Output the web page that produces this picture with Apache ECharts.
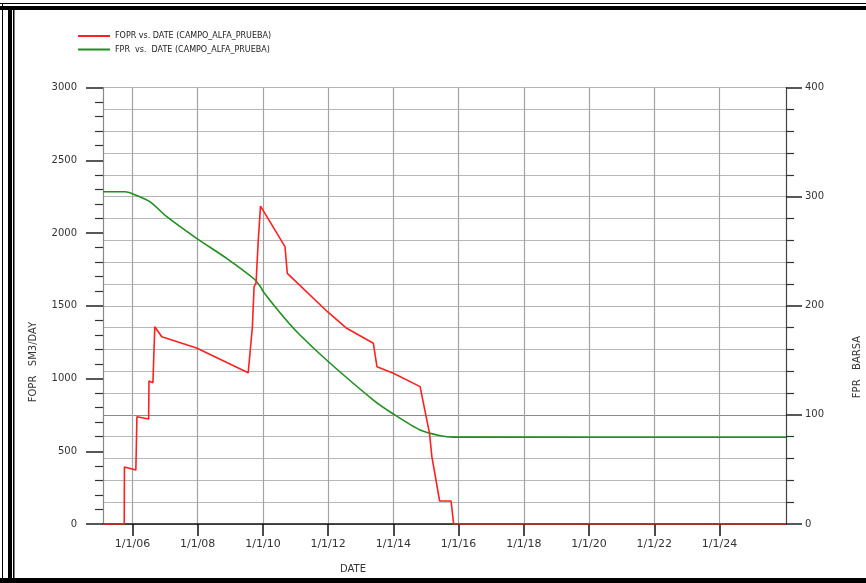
<!DOCTYPE html>
<html>
<head>
<meta charset="utf-8">
<script src="https://cdn.jsdelivr.net/npm/echarts@6/dist/echarts.min.js"></script>
<style>
  html, body { margin: 0; padding: 0; background: #fff; }
  #main { width: 866px; height: 583px; }
</style>
</head>
<body>
<div id="main"></div>
<script>
// FOPR (SM3/DAY), left axis
var foprDates = ['2005-02-05','2005-10-01','2005-10-03','2006-02-08','2006-02-20','2006-07-01','2006-07-05',
  '2006-08-18','2006-09-08','2006-11-25','2007-12-20','2009-07-20','2009-09-05','2009-09-24','2009-10-16',
  '2009-11-10','2009-12-05','2010-09-05','2010-10-01','2011-12-25','2012-07-27','2013-05-22','2013-07-01',
  '2014-01-01','2014-10-27','2015-02-10','2015-03-08','2015-03-26','2015-06-03','2015-10-09','2015-11-07','2026-01-15'];
var foprValues = [0, 0, 392, 371, 737, 722, 983,
  971, 1356, 1287, 1210, 1039, 1354, 1631, 1656,
  1952, 2185, 1906, 1723, 1459, 1345, 1242, 1081,
  1036, 944, 623, 463, 463, 158, 158, 0, 0];

// FPR (BARSA), right axis
var fprDates = ['2005-02-05','2005-10-10','2006-01-08','2006-07-15','2007-01-20','2007-12-20','2008-11-20',
  '2009-09-15','2009-12-05','2010-01-05','2010-08-18','2011-02-20','2012-01-05','2013-05-22','2014-01-01',
  '2014-10-27','2015-06-10','2015-11-07','2026-01-15'];
var fprValues = [304.5, 304.5, 302.4, 295.4, 281.6, 261.8, 243.5,
  225.2, 217.5, 212.9, 190, 173.2, 148.7, 113.6, 100.8,
  86.1, 80.9, 79.6, 79.5];

var tickYears = [2006, 2008, 2010, 2012, 2014, 2016, 2018, 2020, 2022, 2024];
var seriesNames = ['FOPR vs. DATE (CAMPO_ALFA_PRUEBA)', 'FPR  vs.  DATE (CAMPO_ALFA_PRUEBA)'];

var font = 'DejaVu Sans';

function ts(s) {
  var p = s.split('-');
  return Date.UTC(+p[0], +p[1] - 1, +p[2]);
}
var tickValues = tickYears.map(function (y) { return Date.UTC(y, 0, 1); });

function pairs(dates, vals) {
  return dates.map(function (d, i) { return [ts(d), vals[i]]; });
}

var myChart = echarts.init(document.getElementById('main'));
var option = {
  animation: false,
  backgroundColor: '#fff',
  legend: {
    left: 78,
    top: 31,
    orient: 'vertical',
    icon: 'rect',
    itemWidth: 32,
    itemHeight: 2,
    itemGap: 3.5,
    padding: 0,
    data: seriesNames,
    textStyle: { fontFamily: font, fontSize: 8, lineHeight: 10, color: '#222' }
  },
  grid: { left: 103, right: 80, top: 87.5, bottom: 59 },
  xAxis: {
    type: 'value',
    min: ts('2005-02-05'),
    max: ts('2026-01-15'),
    axisLine: { lineStyle: { color: '#111', width: 1.5 } },
    axisTick: { show: true, length: 12, customValues: tickValues, lineStyle: { color: '#111', width: 1.5 } },
    axisLabel: {
      customValues: tickValues,
      margin: 15,
      fontFamily: font,
      fontSize: 11,
      color: '#333',
      formatter: function (v) {
        var d = new Date(v);
        return (d.getUTCMonth() + 1) + '/' + d.getUTCDate() + '/' + String(d.getUTCFullYear()).slice(2);
      }
    },
    splitLine: { show: true, lineStyle: { color: '#a3a3a3', width: 1.2 } }
  },
  yAxis: [
    {
      type: 'value',
      min: 0,
      max: 3000,
      interval: 500,
      position: 'left',
      axisLine: { show: true, lineStyle: { color: '#888', width: 1.2 } },
      axisTick: { show: true, length: 17, lineStyle: { color: '#222', width: 1.5 } },
      minorTick: { show: true, splitNumber: 5, length: 8, lineStyle: { color: '#333', width: 1.2 } },
      axisLabel: {
        margin: 26, fontFamily: font, fontSize: 10, color: '#333',
        formatter: function (v) { return String(v); }
      },
      splitLine: { show: false }
    },
    {
      type: 'value',
      min: 0,
      max: 400,
      interval: 100,
      position: 'right',
      axisLine: { show: true, lineStyle: { color: '#444', width: 1.2 } },
      axisTick: { show: true, length: 16, lineStyle: { color: '#222', width: 1.5 } },
      minorTick: { show: true, splitNumber: 5, length: 8, lineStyle: { color: '#333', width: 1.2 } },
      axisLabel: {
        margin: 19, fontFamily: font, fontSize: 10, color: '#333',
        formatter: function (v) { return String(v); }
      },
      splitLine: { show: true, lineStyle: { color: ['#b4b4b4', '#8a8a8a', '#b4b4b4', '#b4b4b4', '#b4b4b4'], width: 1.2 } },
      minorSplitLine: { show: true, lineStyle: { color: '#b8b8b8', width: 1.2 } }
    }
  ],
  graphic: [
    { type: 'rect', shape: { x: 0, y: 3, width: 866, height: 1 }, style: { fill: '#000' } },
    { type: 'rect', shape: { x: 0, y: 6, width: 866, height: 4 }, style: { fill: '#000' } },
    { type: 'rect', shape: { x: 2, y: 3, width: 1, height: 580 }, style: { fill: '#000' } },
    { type: 'rect', shape: { x: 8, y: 6, width: 4, height: 577 }, style: { fill: '#000' } },
    { type: 'rect', shape: { x: 13, y: 6, width: 1.5, height: 577 }, style: { fill: '#000' } },
    { type: 'rect', shape: { x: 0, y: 578, width: 866, height: 5 }, style: { fill: '#000' } },
    {
      type: 'text', x: 33, y: 362, rotation: Math.PI / 2,
      style: { text: 'FOPR   SM3/DAY', fontFamily: font, fontSize: 10, fill: '#333', textAlign: 'center', textVerticalAlign: 'middle' }
    },
    {
      type: 'text', x: 857, y: 367, rotation: Math.PI / 2,
      style: { text: 'FPR   BARSA', fontFamily: font, fontSize: 10, fill: '#333', textAlign: 'center', textVerticalAlign: 'middle' }
    },
    {
      type: 'text', x: 353, y: 569,
      style: { text: 'DATE', fontFamily: font, fontSize: 10, fill: '#333', textAlign: 'center', textVerticalAlign: 'middle' }
    }
  ],
  series: [
    {
      name: seriesNames[0],
      type: 'line',
      yAxisIndex: 0,
      symbol: 'none',
      showSymbol: false,
      data: pairs(foprDates, foprValues),
      lineStyle: { color: '#ff2020', width: 1.6 },
      itemStyle: { color: '#ff2020' },
      z: 3
    },
    {
      name: seriesNames[1],
      type: 'line',
      yAxisIndex: 1,
      symbol: 'none',
      showSymbol: false,
      smooth: 0.25,
      data: pairs(fprDates, fprValues),
      lineStyle: { color: '#1f8f1f', width: 1.6 },
      itemStyle: { color: '#1f8f1f' },
      z: 2
    }
  ]
};
myChart.setOption(option);
</script>
</body>
</html>
